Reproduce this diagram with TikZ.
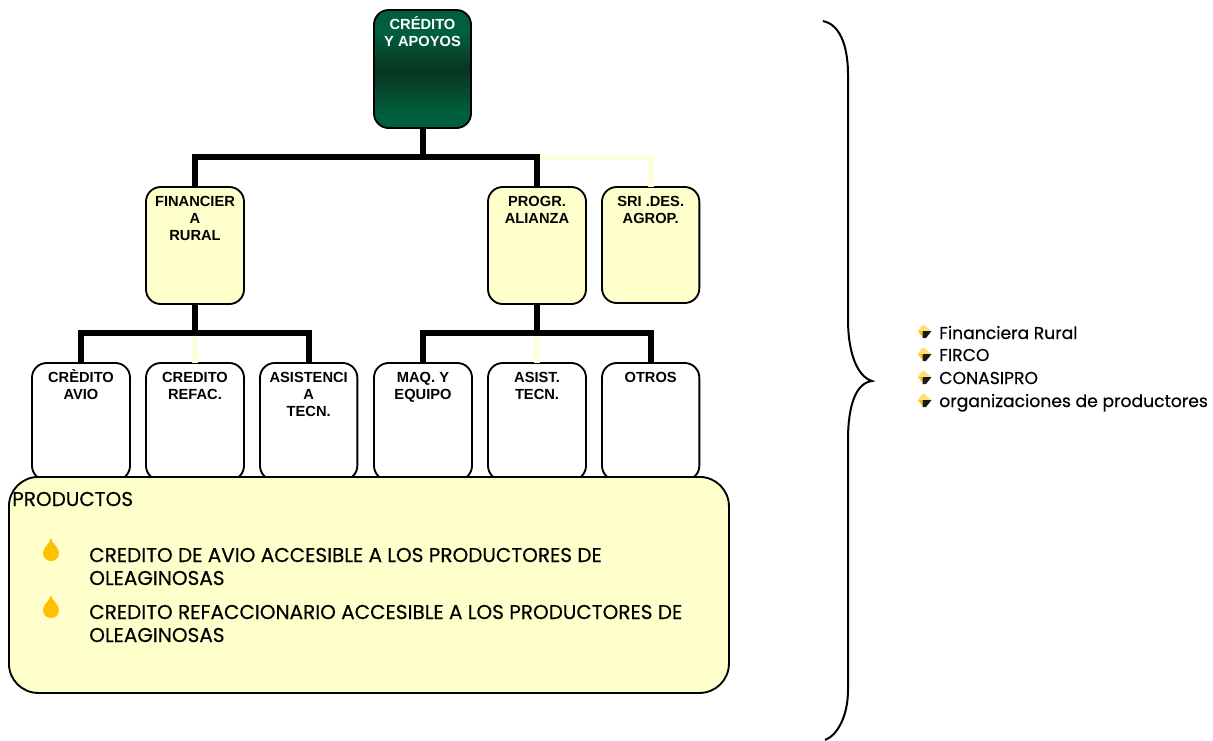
\documentclass[tikz,border=0pt]{standalone}
\usepackage{fontspec}
\setmainfont{Poppins}[FakeBold=0.35]
\newfontfamily\arialb{Liberation Sans}
\definecolor{paleY}{HTML}{FFFFCC}
\definecolor{lineY}{HTML}{FFFFE0}
\definecolor{gold}{HTML}{FFC000}
\definecolor{goldpale}{HTML}{FFDF70}
\definecolor{grA}{HTML}{005F3D}
\definecolor{grB}{HTML}{0A3520}
\pgfdeclareverticalshading{greenband}{100bp}{color(0bp)=(grA); color(31bp)=(grA); color(50bp)=(grB); color(65bp)=(grA); color(100bp)=(grA)}
\newcommand{\inbox}[3]{\parbox[c][#2][t]{#1}{\centering\vspace*{4.8pt}\arialb\bfseries\fontsize{11}{12.75}\selectfont\rule{0pt}{10pt}#3\par}}
\tikzset{
  x=0.75pt,y=-0.75pt,
  cardbase/.style={draw=black,line width=1.4pt,rounded corners=11pt,inner sep=0pt,outer sep=0pt,anchor=north west},
  rootcard/.style={cardbase,shade,shading=greenband,text=white},
  yellowcard/.style={cardbase,fill=paleY},
  whitecard/.style={cardbase,fill=white},
  prodbox/.style={draw=black,line width=1.4pt,rounded corners=22pt,fill=paleY,minimum width=540pt,minimum height=162pt,inner sep=0pt,anchor=north west},
  bus/.style={line width=4.5pt,draw=black},
  palebus/.style={line width=4.5pt,draw=lineY},
  bodytxt/.style={anchor=west,inner sep=0pt,font=\fontsize{15}{15}\selectfont},
  listtxt/.style={anchor=base west,inner sep=0pt,font=\fontsize{12.9}{12.9}\selectfont},
  dropmark/.pic={\fill[gold] (0,-12) .. controls (1,-6) and (8,-3) .. (8,3) .. controls (8,8) and (4,11) .. (0,11) .. controls (-4,11) and (-8,8) .. (-8,3) .. controls (-8,-3) and (-1,-6) .. (0,-12) -- cycle;},
  smalldrop/.pic={\fill[goldpale] (-3,-7) -- (-1,-7) -- (6.5,-1) -- (-7,-1) -- cycle;
    \fill[gold] (-7,-1) -- (-2.5,-1) -- (-2.5,5) -- cycle;
    \fill[black!90] (-2.5,-1) -- (6.5,-1) -- (1,6) -- (-2.5,6) -- cycle;}
}
\begin{document}
\begin{tikzpicture}
\useasboundingbox (0,0) rectangle (1213,740);
% cards
\node[rootcard] (root) at (374,10) {\inbox{72.75pt}{88.5pt}{CRÉDITO\\Y APOYOS}};
\node[yellowcard] (fin) at (146,187) {\inbox{73.5pt}{87.75pt}{FINANCIER\\A\\RURAL}};
\node[yellowcard] (prog) at (488,187) {\inbox{73.5pt}{87.75pt}{PROGR.\\ALIANZA}};
\node[yellowcard] (sri) at (602,187) {\inbox{73pt}{87pt}{SRI .DES.\\AGROP.}};
\node[whitecard] (l1) at (32,363) {\inbox{73.5pt}{88pt}{CRÈDITO\\AVIO}};
\node[whitecard] (l2) at (146,363) {\inbox{73.5pt}{88pt}{CREDITO\\REFAC.}};
\node[whitecard] (l3) at (260,363) {\inbox{73pt}{88pt}{ASISTENCI\\A\\TECN.}};
\node[whitecard] (l4) at (374,363) {\inbox{73.5pt}{88pt}{MAQ. Y\\EQUIPO}};
\node[whitecard] (l5) at (488,363) {\inbox{73.5pt}{88pt}{ASIST.\\TECN.}};
\node[whitecard] (l6) at (602,363) {\inbox{73pt}{88pt}{OTROS}};
% named junctions
\coordinate (busTop) at (root.south |- 0,157);
\coordinate (busL) at (fin.south |- 0,333);
\coordinate (busR) at (prog.south |- 0,333);
% connectors
\draw[palebus] (sri.north) |- (prog.north |- busTop);
\draw[palebus] (l2.north) -- (busL);
\draw[palebus] (l5.north) -- (busR);
\draw[bus] (root.south) -- (busTop);
\draw[bus] (fin.north) |- (busTop);
\draw[bus] (prog.north) |- (busTop);
\draw[bus] (fin.south) -- (busL);
\draw[bus] (l1.north) |- (busL);
\draw[bus] (l3.north) |- (busL);
\draw[bus] (prog.south) -- (busR);
\draw[bus] (l4.north) |- (busR);
\draw[bus] (l6.north) |- (busR);
% products panel
\node[prodbox] (prod) at (8,476) {};
\node[bodytxt] (ptitle) at (12,499) {PRODUCTOS};
\pic at (51,550) {dropmark};
\pic at (51,607) {dropmark};
\node[bodytxt] (p1a) at (89,555) {CREDITO DE AVIO ACCESIBLE A LOS PRODUCTORES DE};
\node[bodytxt] (p1b) at (89,578) {OLEAGINOSAS};
\node[bodytxt] (p2a) at (89,612) {CREDITO REFACCIONARIO ACCESIBLE A LOS PRODUCTORES DE};
\node[bodytxt] (p2b) at (89,635) {OLEAGINOSAS};
% brace
\coordinate (brA) at (823,21);
\coordinate (brTip) at (872,381);
\coordinate (brB) at (825,740);
\draw[black,line width=1.5pt] (brA) .. controls (838,24) and (848,42) .. (848,75) -- (848,320) .. controls (848,350) and (856,376) .. (brTip) .. controls (856,383) and (848,405) .. (848,440) -- (848,690) .. controls (848,715) and (838,735) .. (brB);
% side list
\pic at (925,332) {smalldrop};
\pic at (925,355) {smalldrop};
\pic at (925,378) {smalldrop};
\pic at (925,401) {smalldrop};
\node[listtxt] (s1) at (939,339) {Financiera Rural};
\node[listtxt] (s2) at (939,361) {FIRCO};
\node[listtxt] (s3) at (939,384) {CONASIPRO};
\node[listtxt] (s4) at (939,407) {organizaciones de productores};
\end{tikzpicture}
\end{document}
